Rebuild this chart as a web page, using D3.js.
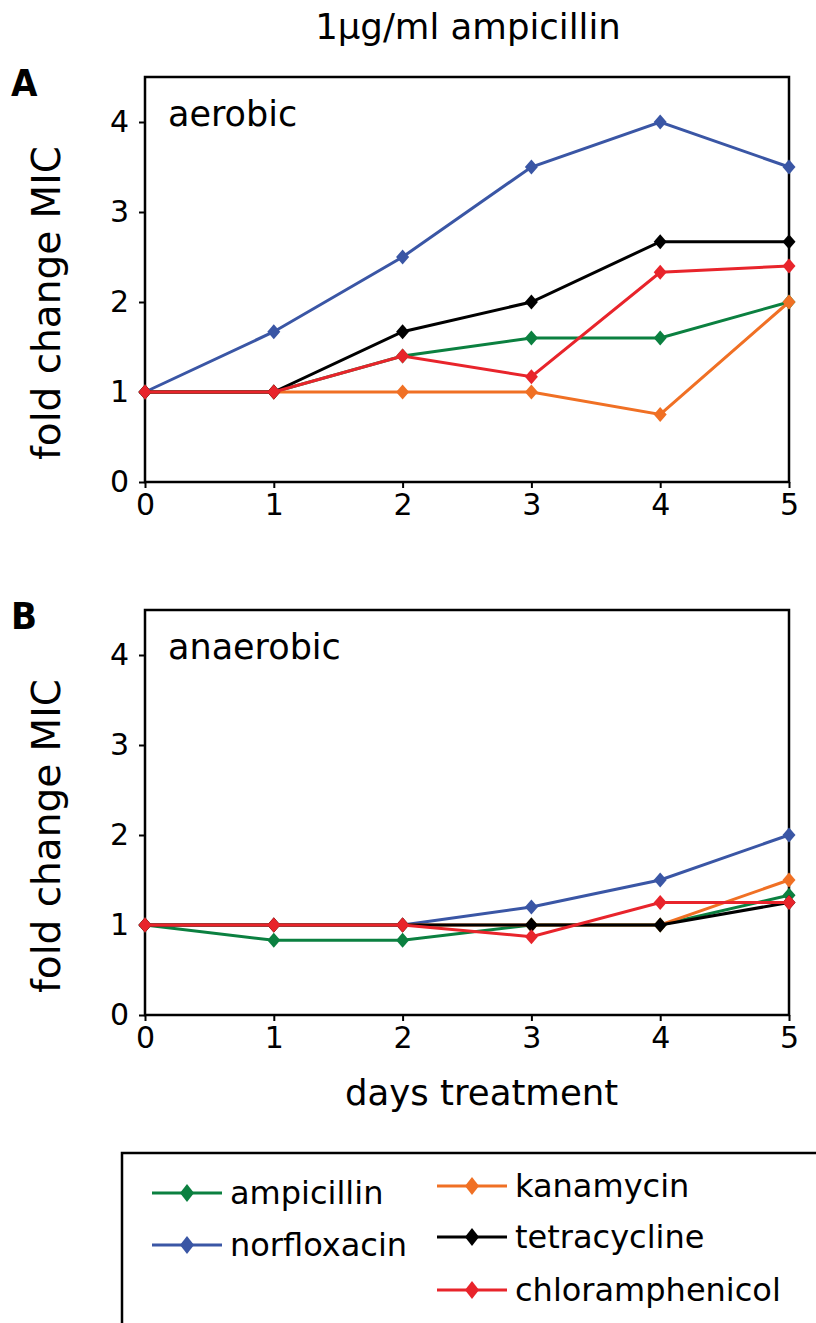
<!DOCTYPE html>
<html>
<head>
<meta charset="utf-8">
<script src="https://cdn.jsdelivr.net/npm/d3@7"></script>
<style>
  body { margin: 0; background: #fff; }
  svg text { font-family: "DejaVu Sans", Verdana, sans-serif; fill: #000; }
</style>
</head>
<body>
<svg id="chart" width="816" height="1323"></svg>
<script>
// days on the x axis
const days = [0, 1, 2, 3, 4, 5];
const xTicks = [0, 1, 2, 3, 4, 5];
const yTicks = [0, 1, 2, 3, 4];

const seriesNames = ['ampicillin', 'norfloxacin', 'kanamycin', 'tetracycline', 'chloramphenicol'];
const seriesColors = ['#0b8040', '#3a56a5', '#f07024', '#000000', '#e8242b'];

// panel A - aerobic
const aerobicAmpicillin = [1, 1, 1.4, 1.6, 1.6, 2];
const aerobicNorfloxacin = [1, 1.67, 2.5, 3.5, 4, 3.5];
const aerobicKanamycin = [1, 1, 1, 1, 0.75, 2];
const aerobicTetracycline = [1, 1, 1.67, 2, 2.67, 2.67];
const aerobicChloramphenicol = [1, 1, 1.4, 1.17, 2.33, 2.4];

// panel B - anaerobic
const anaerobicAmpicillin = [1, 0.83, 0.83, 1, 1, 1.33];
const anaerobicNorfloxacin = [1, 1, 1, 1.2, 1.5, 2];
const anaerobicKanamycin = [1, 1, 1, 1, 1, 1.5];
const anaerobicTetracycline = [1, 1, 1, 1, 1, 1.25];
const anaerobicChloramphenicol = [1, 1, 1, 0.87, 1.25, 1.25];

const panels = [
    { letter: 'A', label: 'aerobic', top: 77,
      values: [aerobicAmpicillin, aerobicNorfloxacin, aerobicKanamycin, aerobicTetracycline, aerobicChloramphenicol] },
    { letter: 'B', label: 'anaerobic', top: 610,
      values: [anaerobicAmpicillin, anaerobicNorfloxacin, anaerobicKanamycin, anaerobicTetracycline, anaerobicChloramphenicol] }
];

const svg = d3.select('#chart');
const left = 145, right = 789, plotH = 405;

const x = d3.scaleLinear().domain([0, 5]).range([left, right]);

const diamond = 'M0,-7.5L6.5,0L0,7.5L-6.5,0Z';

svg.append('text')
    .attr('x', 468).attr('y', 39)
    .attr('text-anchor', 'middle')
    .style('font-size', '35.5px')
    .text('1\u03bcg/ml ampicillin');

panels.forEach(p => {
    const y = d3.scaleLinear().domain([0, 4.5]).range([p.top + plotH, p.top]);
    const g = svg.append('g');

    // axes
    const ya = g.append('g')
        .attr('transform', `translate(${left},0)`)
        .call(d3.axisLeft(y).tickValues(yTicks).tickSize(6).tickPadding(10).tickFormat(d3.format('d')));
    const xa = g.append('g')
        .attr('transform', `translate(0,${p.top + plotH})`)
        .call(d3.axisBottom(x).tickValues(xTicks).tickSize(6).tickPadding(6).tickFormat(d3.format('d')));
    [ya, xa].forEach(a => {
        a.select('.domain').remove();
        a.selectAll('line').attr('stroke', '#000').attr('stroke-width', 2);
        a.selectAll('text').style('font-size', '30px').attr('fill', '#000')
            .style('font-family', '"DejaVu Sans", Verdana, sans-serif');
    });

    // frame
    g.append('rect')
        .attr('x', left).attr('y', p.top)
        .attr('width', right - left).attr('height', plotH)
        .attr('fill', 'none').attr('stroke', '#000').attr('stroke-width', 2.5);

    const line = d3.line().x((d, i) => x(days[i])).y(d => y(d));

    p.values.forEach((vals, s) => {
        g.append('path')
            .datum(vals)
            .attr('d', line)
            .attr('fill', 'none')
            .attr('stroke', seriesColors[s])
            .attr('stroke-width', 3);
        g.selectAll(null)
            .data(vals)
            .enter().append('path')
            .attr('d', diamond)
            .attr('transform', (d, i) => `translate(${x(days[i])},${y(d)})`)
            .attr('fill', seriesColors[s]);
    });

    g.append('text')
        .attr('x', left + 23).attr('y', p.top + 49)
        .style('font-size', '35px')
        .text(p.label);

    g.append('text')
        .attr('x', 11).attr('y', p.top + 19)
        .style('font-family', '"Liberation Sans Narrow", "DejaVu Sans Condensed", sans-serif')
        .style('font-weight', 'bold')
        .style('font-size', '38px')
        .text(p.letter);

    g.append('text')
        .attr('transform', `translate(60,${p.top + 226}) rotate(-90)`)
        .attr('text-anchor', 'middle')
        .style('font-size', '39px')
        .text('fold change MIC');
});

svg.append('text')
    .attr('x', 345).attr('y', 1105)
    .style('font-size', '35.5px')
    .text('days treatment');

// legend
const legend = svg.append('g');
legend.append('rect')
    .attr('x', 122).attr('y', 1153)
    .attr('width', 720).attr('height', 200)
    .attr('fill', 'none').attr('stroke', '#000').attr('stroke-width', 2.5);

const legendPos = [
    { lx: 152, ly: 1193 },
    { lx: 152, ly: 1245 },
    { lx: 437, ly: 1186 },
    { lx: 437, ly: 1237 },
    { lx: 437, ly: 1290 }
];

seriesNames.forEach((name, s) => {
    const pos = legendPos[s];
    const item = legend.append('g').attr('transform', `translate(${pos.lx},${pos.ly})`);
    item.append('line')
        .attr('x1', 0).attr('x2', 70)
        .attr('stroke', seriesColors[s]).attr('stroke-width', 3);
    item.append('path')
        .attr('d', 'M0,-9L7,0L0,9L-7,0Z')
        .attr('transform', 'translate(35,0)')
        .attr('fill', seriesColors[s]);
    item.append('text')
        .attr('x', 78).attr('y', 11)
        .style('font-size', '32px')
        .text(name);
});
</script>
</body>
</html>
